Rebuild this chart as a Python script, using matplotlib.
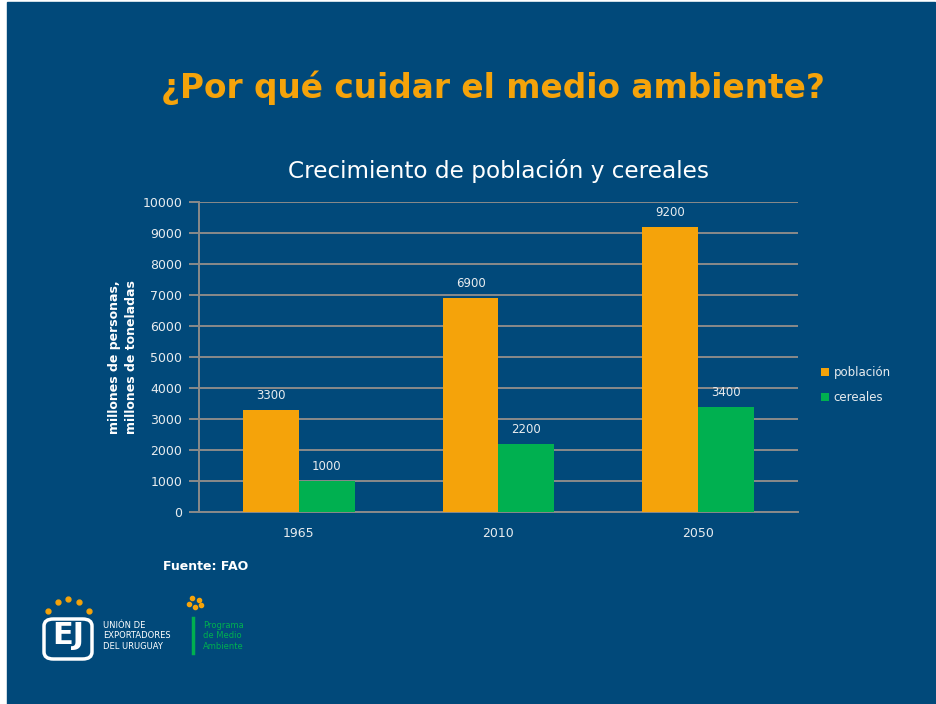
import matplotlib.pyplot as plt
import matplotlib.patches as mpatches
import numpy as np

years = ['1965', '2010', '2050']
poblacion = [3300, 6900, 9200]
cereales = [1000, 2200, 3400]
yticks = [0, 1000, 2000, 3000, 4000, 5000, 6000, 7000, 8000, 9000, 10000]

bg = '#01497a'
orange = '#f5a30a'
green = '#00b050'
grid = '#8a8a8a'
txt = '#e8ecef'

W, H = 937, 704
fig = plt.figure(figsize=(W / 100, H / 100), dpi=100, facecolor='white')

# slide background (white edge left/top)
fig.patches.append(mpatches.Rectangle((7 / W, 0), 928 / W, 702 / H,
                                      transform=fig.transFigure, color=bg, zorder=-10))

fig.text(493 / W, 1 - 88 / H, '¿Por qué cuidar el medio ambiente?', color=orange,
         fontsize=23.6, fontweight='bold', ha='center', va='center')
fig.text(499 / W, 1 - 171 / H, 'Crecimiento de población y cereales', color='white',
         fontsize=16.7, ha='center', va='center')

ax = fig.add_axes([199 / W, 1 - 512 / H, 599 / W, 310 / H])
ax.set_facecolor('none')
x = np.arange(len(years))
w = 0.28
b1 = ax.bar(x - w / 2, poblacion, w, color=orange, label='población', zorder=3)
b2 = ax.bar(x + w / 2, cereales, w, color=green, label='cereales', zorder=3)
for bars, vals in ((b1, poblacion), (b2, cereales)):
    for r, v in zip(bars, vals):
        ax.text(r.get_x() + r.get_width() / 2, v + 250, str(v), color=txt,
                fontsize=8.5, ha='center', va='bottom')

ax.set_xlim(-0.5, 2.5)
ax.set_ylim(0, 10000)
ax.set_yticks(yticks)
ax.set_xticks(x)
ax.set_xticklabels(years)
ax.yaxis.grid(True, color=grid, linewidth=1.4, zorder=0)
for s in ('top', 'right'):
    ax.spines[s].set_visible(False)
for s in ('left', 'bottom'):
    ax.spines[s].set_color(grid)
    ax.spines[s].set_linewidth(1.4)
ax.tick_params(axis='y', colors=grid, length=7, width=1.4, labelcolor=txt, labelsize=9, pad=5)
ax.tick_params(axis='x', length=0, labelcolor=txt, labelsize=9, pad=11)
ax.set_ylabel('millones de personas,\nmillones de toneladas', color='white',
              fontsize=9, fontweight='bold', labelpad=3, linespacing=1.45)

leg = ax.legend(loc='center left', bbox_to_anchor=(1.02, 0.41), frameon=False,
                fontsize=8.5, handlelength=0.7, handleheight=0.7, handletextpad=0.4,
                labelspacing=1.0, labelcolor=txt)

fig.text(163 / W, 1 - 566 / H, 'Fuente: FAO', color='white', fontsize=9,
         fontweight='bold', ha='left', va='center')

# logo
lx = [48, 58, 68, 79, 89]
ly = [611, 602, 599, 602, 611]
fig.add_artist(plt.Line2D([v / W for v in lx], [1 - v / H for v in ly], ls='none',
                          marker='o', ms=3.5, color=orange))
fig.text(68 / W, 1 - 636 / H, 'EJ', color='white', fontsize=22, fontweight='bold',
         ha='center', va='center')
fig.add_artist(mpatches.FancyBboxPatch((44 / W, 1 - 659 / H), 48 / W, 40 / H,
                                       boxstyle='round,pad=0,rounding_size=0.01',
                                       transform=fig.transFigure, fill=False,
                                       ec='white', lw=2.5))
fig.text(103 / W, 1 - 636 / H, 'UNIÓN DE\nEXPORTADORES\nDEL URUGUAY', color='white',
         fontsize=6, ha='left', va='center', linespacing=1.2)
gx = [192, 199, 189, 195, 201]
gy = [598, 600, 604, 607, 605]
fig.add_artist(plt.Line2D([v / W for v in gx], [1 - v / H for v in gy], ls='none',
                          marker='o', ms=3, color=orange))
fig.add_artist(plt.Line2D([193 / W, 193 / W], [1 - 618 / H, 1 - 653 / H], color=green, lw=2.5))
fig.text(203 / W, 1 - 636 / H, 'Programa\nde Medio\nAmbiente', color=green,
         fontsize=6, ha='left', va='center', linespacing=1.2)

fig.savefig('out.png', dpi=100, facecolor=fig.get_facecolor())
